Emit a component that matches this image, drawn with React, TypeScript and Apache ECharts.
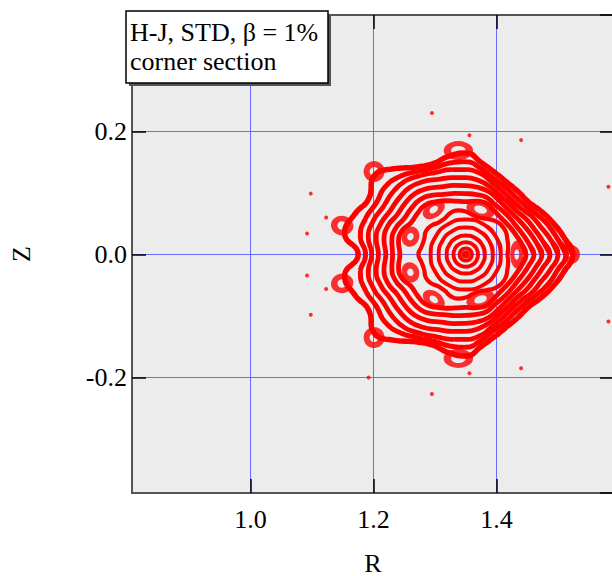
import React, { useEffect, useRef } from "react";
import * as echarts from "echarts";

// Magnetic axis (R, Z)
const AXIS_R = 1.35;
const AXIS_Z = 0.0;

// Axis extents read from the frame
const R_MIN = 0.807317;
const R_MAX = 1.591057;
const Z_MIN = -0.387805;
const Z_MAX = 0.389431;

// Poloidal angles (deg) at which surface radii are read (upper half; lower half is mirror symmetric)
const ANGLES = [0, 10, 20, 30, 40, 50, 60, 70, 80, 90, 100, 110, 120, 130, 140, 150, 160, 170, 180];
const RING_ANGLES = [0, 30, 60, 90, 120, 150, 180];

// Inner nested circular surfaces: minor radius (1e-3 units of R)
const INNER_RINGS = [3.5, 10, 20, 31, 44, 57];

// Outer surfaces: minor radius (1e-3 units) at each of ANGLES
const RING6 = [68, 70, 72, 75, 75, 72, 67, 64, 65, 70, 73, 72, 68, 68, 73, 75, 72, 73, 77];
const SURF1 = [98, 93, 88, 85, 83, 83, 86, 90, 88, 86, 88, 93, 99, 104, 103, 103, 111, 111, 107];
const SURF2 = [111, 104, 98, 94, 93, 93, 94, 99, 99, 99, 101, 104, 111, 116, 116, 116, 122, 122, 119];
const SURF3 = [124, 116, 109, 104, 101, 101, 104, 109, 111, 112, 114, 117, 124, 129, 129, 129, 135, 135, 130];
const SURF4 = [137, 127, 119, 114, 109, 109, 111, 117, 122, 125, 127, 130, 137, 142, 142, 142, 147, 148, 142];
const SURF5 = [150, 140, 130, 124, 117, 116, 119, 125, 134, 138, 140, 142, 148, 155, 156, 155, 160, 161, 153];
const SURF6 = [163, 151, 142, 132, 125, 124, 127, 132, 142, 151, 151, 150, 156, 166, 171, 168, 173, 174, 163];
const EDGE = [174, 162, 151, 141, 133, 133, 135, 141, 151, 165, 162, 157, 164, 182, 196, 182, 192, 200, 175];

// 7-fold island chain (R, Z)
const ISLANDS_R = [1.433, 1.374, 1.298, 1.26, 1.26, 1.298, 1.374];
const ISLANDS_Z = [0.0, 0.073, 0.073, 0.029, -0.029, -0.073, -0.073];
// outer island chain (R, Z)
const OUTER_ISL_R = [1.522, 1.338, 1.201, 1.149, 1.149, 1.201, 1.338];
const OUTER_ISL_Z = [0.0, 0.169, 0.135, 0.047, -0.047, -0.135, -0.169];

// stray escaping orbit points (R, Z)
const STRAY_R = [1.295, 1.356, 1.44, 1.582, 1.098, 1.123, 1.092, 1.092, 1.123, 1.098, 1.192, 1.356, 1.44, 1.582, 1.295];
const STRAY_Z = [0.23, 0.194, 0.186, 0.11, 0.099, 0.06, 0.034, -0.034, -0.056, -0.098, -0.2, -0.193, -0.185, -0.109, -0.227];

// island marker styles (px) and orientation (deg)
const ISL_SIZE = [[9, 19], [21, 12], [17, 11], [14, 12], [14, 12], [17, 11], [21, 12]];
const ISL_ROT = [0, -18, 36, 73, -73, -36, 18];
const OISL_SIZE = [[11, 12], [22, 14], [15, 15], [14, 16], [14, 16], [15, 15], [22, 14]];
const OISL_ROT = [0, 0, 47, 77, -77, -47, 0];

const RED = "#ff0000";
const FONT = "Liberation Serif";
const GRIDLINE = "#6a6aff";

function polar(angDeg: number, rMilli: number): number[] {
  const a = (angDeg * Math.PI) / 180;
  const r = rMilli / 1000;
  return [AXIS_R + r * Math.cos(a), AXIS_Z + r * Math.sin(a)];
}

function loop(radii: number[], angles: number[]): number[][] {
  const pts: number[][] = [];
  const n = angles.length;
  for (let i = 0; i < n; i++) pts.push(polar(angles[i], radii[i]));
  for (let i = n - 2; i >= 1; i--) pts.push(polar(-angles[i], radii[i]));
  pts.push(pts[0], pts[1], pts[2]);
  return pts;
}

function surfaceSeries(data: number[][], width: number, dash?: number[]) {
  return {
    type: "line",
    data,
    showSymbol: false,
    symbol: "none",
    smooth: 0.5,
    silent: true,
    xAxisIndex: 0,
    yAxisIndex: 0,
    lineStyle: { color: RED, width, type: dash ? dash : "solid", cap: "round", join: "round" },
    z: 3,
  };
}

export default function App() {
  const ref = useRef<HTMLDivElement>(null);
  useEffect(() => {
    if (!ref.current) return;
    const chart = echarts.init(ref.current, undefined, { renderer: "svg" });

    const series: any[] = [];
    INNER_RINGS.forEach((r) => {
      series.push(surfaceSeries(loop(RING_ANGLES.map(() => r), RING_ANGLES), 3.9));
    });
    series.push(surfaceSeries(loop(RING6, ANGLES), 4.2));
    [SURF1, SURF2, SURF3, SURF4].forEach((s) => series.push(surfaceSeries(loop(s, ANGLES), 4.8)));
    series.push(surfaceSeries(loop(SURF5, ANGLES), 4.8, [14, 2]));
    series.push(surfaceSeries(loop(SURF6, ANGLES), 5, [9, 2]));
    series.push(surfaceSeries(loop(EDGE, ANGLES), 5.5, [5, 2]));

    series.push({
      type: "scatter",
      silent: true,
      symbol: "circle",
      data: ISLANDS_R.map((r, i) => ({
        value: [r, ISLANDS_Z[i]],
        symbolSize: ISL_SIZE[i],
        symbolRotate: ISL_ROT[i],
      })),
      itemStyle: { color: "rgba(0,0,0,0)", borderColor: RED, borderWidth: 6 },
      z: 4,
    });
    series.push({
      type: "scatter",
      silent: true,
      symbol: "circle",
      data: OUTER_ISL_R.map((r, i) => ({
        value: [r, OUTER_ISL_Z[i]],
        symbolSize: OISL_SIZE[i],
        symbolRotate: OISL_ROT[i],
      })),
      itemStyle: { color: "rgba(0,0,0,0)", borderColor: RED, borderWidth: 6 },
      z: 4,
    });
    series.push({
      type: "scatter",
      silent: true,
      symbol: "circle",
      symbolSize: 4,
      data: STRAY_R.map((r, i) => [r, STRAY_Z[i]]),
      itemStyle: { color: RED },
      z: 4,
    });

    const labelStyle = { fontFamily: FONT, fontSize: 26, color: "#000" };
    const mkAxisLine = () => ({ show: true, onZero: false, lineStyle: { color: "#555", width: 2 } });
    const mkTick = () => ({ show: true, inside: true, length: 14, lineStyle: { color: "#000", width: 1.5 } });
    const noSplit = () => ({ show: false });
    const fmt = (v: number) => v.toFixed(1);

    const option: any = {
      animation: false,
      textStyle: { fontFamily: FONT },
      grid: {
        left: 132,
        right: -2,
        top: 15,
        bottom: 83,
        show: true,
        backgroundColor: "#ececec",
        borderWidth: 0,
        containLabel: false,
        outerBoundsMode: "none",
      },
      title: {
        text: "H-J, STD, β = 1%\ncorner section",
        left: 130,
        top: 18,
        padding: 0,
        itemGap: 0,
        z: 102,
        textStyle: {
          fontFamily: FONT,
          fontSize: 26,
          fontWeight: "normal",
          color: "#000",
          lineHeight: 29,
        },
      },
      xAxis: [
        {
          type: "value",
          min: R_MIN,
          max: R_MAX,
          splitNumber: 4,
          position: "bottom",
          axisLine: mkAxisLine(),
          axisTick: mkTick(),
          axisLabel: { ...labelStyle, margin: 13, formatter: fmt, showMinLabel: false, showMaxLabel: false },
          splitLine: { show: true, lineStyle: { color: GRIDLINE, width: 1 } },
          name: "R",
          nameLocation: "middle",
          nameGap: 57,
          nameTextStyle: labelStyle,
        },
        {
          type: "value",
          min: R_MIN,
          max: R_MAX,
          splitNumber: 4,
          position: "top",
          axisLine: mkAxisLine(),
          axisTick: mkTick(),
          axisLabel: { show: false },
          splitLine: noSplit(),
        },
      ],
      yAxis: [
        {
          type: "value",
          min: Z_MIN,
          max: Z_MAX,
          splitNumber: 4,
          position: "left",
          axisLine: mkAxisLine(),
          axisTick: mkTick(),
          axisLabel: { ...labelStyle, margin: 5, formatter: fmt, showMinLabel: false, showMaxLabel: false },
          splitLine: { show: true, lineStyle: { color: GRIDLINE, width: 1 } },
          name: "Z",
          nameLocation: "middle",
          nameGap: 98,
          nameRotate: 90,
          nameTextStyle: labelStyle,
        },
        {
          type: "value",
          min: Z_MIN,
          max: Z_MAX,
          splitNumber: 4,
          position: "right",
          axisLine: mkAxisLine(),
          axisTick: mkTick(),
          axisLabel: { show: false },
          splitLine: noSplit(),
        },
      ],
      graphic: [
        {
          type: "rect",
          z: 100,
          shape: { x: 129, y: 14, width: 202, height: 72 },
          style: { fill: "#555" },
        },
        {
          type: "rect",
          z: 101,
          shape: { x: 126, y: 11, width: 202, height: 72 },
          style: { fill: "#fff", stroke: "#000", lineWidth: 1.5 },
        },
      ],
      series,
    };
    chart.setOption(option);
    return () => chart.dispose();
  }, []);

  return (
    <div
      ref={ref}
      style={{ position: "absolute", left: 0, top: 0, width: 612, height: 576, background: "#fff" }}
    />
  );
}
